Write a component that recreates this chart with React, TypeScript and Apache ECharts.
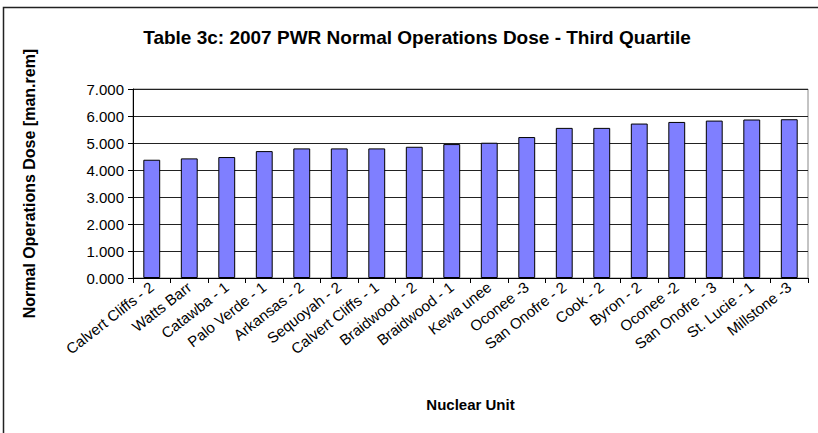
import React, { useEffect, useRef } from "react";
import * as echarts from "echarts";

const categories = [
  "Calvert Cliffs - 2",
  "Watts Barr",
  "Catawba - 1",
  "Palo Verde - 1",
  "Arkansas - 2",
  "Sequoyah - 2",
  "Calvert Cliffs - 1",
  "Braidwood - 2",
  "Braidwood - 1",
  "Kewa unee",
  "Oconee -3",
  "San Onofre - 2",
  "Cook - 2",
  "Byron - 2",
  "Oconee -2",
  "San Onofre - 3",
  "St. Lucie - 1",
  "Millstone -3",
];

const doseValues = [
  4.38, 4.43, 4.48, 4.7, 4.8, 4.8, 4.8, 4.86, 4.96, 5.01, 5.22, 5.56, 5.56,
  5.72, 5.78, 5.83, 5.87, 5.88,
];

const titleText = "Table 3c: 2007 PWR Normal Operations Dose - Third Quartile";
const yAxisTitle = "Normal Operations Dose [man.rem]";
const xAxisTitle = "Nuclear Unit";

export default function App() {
  const ref = useRef<HTMLDivElement>(null);

  useEffect(() => {
    if (!ref.current) return;
    const chart = echarts.init(ref.current, undefined, { renderer: "svg" });
    const font = "Arial, 'Liberation Sans', sans-serif";
    chart.setOption({
      animation: false,
      backgroundColor: "#ffffff",
      title: {
        text: titleText,
        left: 412,
        textAlign: "center",
        top: 23,
        textStyle: {
          fontFamily: font,
          fontSize: 19,
          fontWeight: "bold",
          color: "#000",
        },
      },
      graphic: [
        {
          type: "rect",
          shape: { x: 3.5, y: 7.5, width: 840, height: 450 },
          style: { fill: "none", stroke: "#222", lineWidth: 1.5 },
          silent: true,
        },
      ],
      grid: {
        left: 133,
        right: 10,
        top: 89,
        bottom: 155,
        show: true,
        borderColor: "#888",
        borderWidth: 1,
        backgroundColor: "transparent",
      },
      xAxis: {
        type: "category",
        data: categories,
        name: xAxisTitle,
        nameLocation: "middle",
        nameGap: 119,
        nameTextStyle: {
          fontFamily: font,
          fontSize: 15,
          fontWeight: "bold",
          color: "#000",
        },
        axisLine: { lineStyle: { color: "#000", width: 1 } },
        axisTick: { show: true, length: 5, lineStyle: { color: "#000" } },
        axisLabel: {
          rotate: 38,
          fontFamily: font,
          fontSize: 15,
          color: "#000",
          margin: 7,
          interval: 0,
        },
      },
      yAxis: {
        type: "value",
        min: 0,
        max: 7,
        interval: 1,
        name: yAxisTitle,
        nameLocation: "middle",
        nameGap: 96,
        nameTextStyle: {
          fontFamily: font,
          fontSize: 16,
          fontWeight: "bold",
          color: "#000",
        },
        axisLine: { show: true, lineStyle: { color: "#000", width: 1 } },
        axisTick: { show: true, length: 5, lineStyle: { color: "#000" } },
        axisLabel: {
          fontFamily: font,
          fontSize: 15,
          color: "#000",
          margin: 9,
          formatter: (v: number) => v.toFixed(3),
        },
        splitLine: { show: true, lineStyle: { color: "#222", width: 1 } },
      },
      series: [
        {
          type: "bar",
          data: doseValues,
          barWidth: "45%",
          itemStyle: {
            color: "#7f7fff",
            borderColor: "#000",
            borderWidth: 1,
          },
        },
      ],
    });
    return () => chart.dispose();
  }, []);

  return (
    <div
      ref={ref}
      style={{ position: "absolute", left: 0, top: 0, width: 818, height: 433 }}
    />
  );
}
